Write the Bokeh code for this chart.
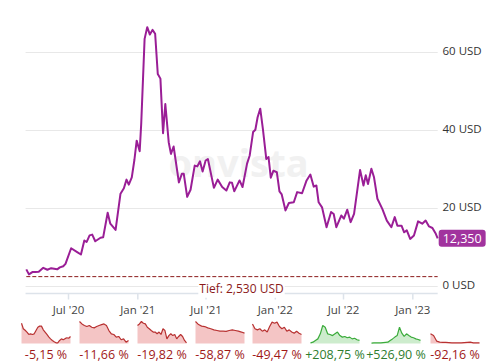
from datetime import datetime, timedelta
import pandas as pd
from bokeh.plotting import figure
from bokeh.models import Range1d, Label
from bokeh.core.properties import value
from bokeh.embed import file_html
from bokeh.resources import INLINE

# ---------------- data ----------------
dates = ["2020-03-11", "2020-03-18", "2020-03-27", "2020-04-04", "2020-04-13", "2020-04-25",
         "2020-05-06", "2020-05-16", "2020-06-01", "2020-06-08", "2020-06-17", "2020-06-23",
         "2020-07-08", "2020-07-24", "2020-08-03", "2020-08-12", "2020-08-18", "2020-08-26",
         "2020-09-02", "2020-09-10", "2020-09-24", "2020-10-01", "2020-10-13", "2020-10-20",
         "2020-11-03", "2020-11-16", "2020-11-25", "2020-12-02", "2020-12-08", "2020-12-16",
         "2020-12-23", "2020-12-29", "2021-01-06", "2021-01-10", "2021-01-19", "2021-01-26",
         "2021-02-02", "2021-02-09", "2021-02-16", "2021-02-23", "2021-03-02", "2021-03-09",
         "2021-03-15", "2021-03-24", "2021-03-30", "2021-04-06", "2021-04-15", "2021-04-20",
         "2021-04-28", "2021-05-03", "2021-05-12", "2021-05-21", "2021-06-01", "2021-06-08",
         "2021-06-15", "2021-06-22", "2021-06-30", "2021-07-06", "2021-07-22", "2021-08-01",
         "2021-08-13", "2021-08-24", "2021-09-02", "2021-09-08", "2021-09-14", "2021-09-28",
         "2021-10-06", "2021-10-18", "2021-10-25", "2021-11-03", "2021-11-09", "2021-11-15",
         "2021-11-22", "2021-11-29", "2021-12-08", "2021-12-14", "2021-12-20", "2021-12-27",
         "2022-01-05", "2022-01-12", "2022-01-18", "2022-01-28", "2022-02-06", "2022-02-19",
         "2022-02-28", "2022-03-13", "2022-03-25", "2022-04-04", "2022-04-13", "2022-04-20",
         "2022-04-26", "2022-05-05", "2022-05-17", "2022-05-29", "2022-06-05", "2022-06-12",
         "2022-06-25", "2022-07-02", "2022-07-11", "2022-07-20", "2022-07-29", "2022-08-14",
         "2022-08-23", "2022-08-29", "2022-09-04", "2022-09-13", "2022-09-20", "2022-09-29",
         "2022-10-12", "2022-10-24", "2022-11-05", "2022-11-14", "2022-11-21", "2022-12-02",
         "2022-12-09", "2022-12-16", "2022-12-25", "2023-01-04", "2023-01-15", "2023-01-26",
         "2023-02-04", "2023-02-13", "2023-02-22", "2023-03-03", "2023-03-08"]
prices = [4.4, 3.1, 3.7, 3.7, 3.8, 4.8,
          4.3, 4.7, 4.4, 4.9, 5.2, 5.8,
          9.8, 8.8, 8.2, 11.8, 11.4, 13.1,
          13.3, 11.6, 12.5, 12.6, 18.9, 16.1,
          14.5, 23.8, 25.2, 27.4, 26.1, 28.0,
          32.5, 37.4, 34.7, 41.7, 63.5, 66.5,
          64.6, 65.8, 64.8, 54.5, 53.3, 39.3,
          46.8, 37.0, 34.0, 35.9, 30.0, 26.7,
          28.9, 28.9, 23.0, 24.8, 31.0, 30.8,
          32.1, 29.5, 32.3, 32.7, 25.3, 27.4,
          25.5, 24.6, 26.7, 26.6, 24.4, 27.2,
          25.5, 31.5, 33.6, 39.6, 40.2, 43.4,
          45.6, 40.4, 32.7, 33.2, 27.9, 29.7,
          29.3, 24.4, 23.6, 19.5, 21.4, 21.6,
          24.2, 23.9, 27.2, 28.7, 25.6, 25.9,
          21.6, 20.3, 15.2, 19.1, 18.6, 15.2,
          18.2, 17.4, 19.7, 16.5, 18.6, 29.9,
          25.9, 28.5, 26.3, 30.2, 28.0, 22.5,
          19.9, 16.9, 15.2, 17.8, 15.6, 15.6,
          13.9, 14.4, 12.2, 13.1, 16.7, 16.1,
          16.9, 15.4, 15.0, 13.5, 12.35]

last_price_text = "12,350"
low_value = 2.53
low_text = "Tief: 2,530 USD"

y_ticks = [0, 20, 40, 60]
y_tick_labels = ["0 USD", "20 USD", "40 USD", "60 USD"]
x_ticks = ["2020-07-01", "2021-01-01", "2021-07-01", "2022-01-01", "2022-07-01", "2023-01-01"]
x_tick_labels = ["Jul '20", "Jan '21", "Jul '21", "Jan '22", "Jul '22", "Jan '23"]

# performance sparklines (relative heights, 0..100)
spark_1 = [92, 67, 60, 52, 41, 44, 41, 44, 59, 74, 79, 79, 62, 52, 41, 30, 21, 14, 8, 3, 3, 14, 21, 17, 22, 26, 24, 32]
spark_2 = [100, 89, 82, 77, 82, 74, 71, 77, 82, 86, 89, 82, 59, 44, 41, 29, 32, 17, 21, 6, 14]
spark_3 = [82, 89, 100, 92, 89, 74, 67, 59, 52, 52, 44, 52, 41, 67, 59, 21, 36, 44, 36, 41, 21, 32, 41, 32, 14, 3]
spark_4 = [100, 86, 79, 77, 71, 67, 62, 59, 56, 56, 55, 59, 62, 59, 56, 52, 47]
spark_5 = [89, 67, 62, 67, 56, 62, 52, 77, 97, 92, 97, 77, 67, 74, 56, 62, 52, 47, 56, 47, 41]
spark_6 = [3, 6, 14, 21, 44, 82, 74, 44, 41, 36, 44, 52, 36, 29, 32, 26, 29, 21, 24, 17, 14]
spark_7 = [2, 3, 3, 3, 3, 4, 5, 6, 14, 21, 29, 36, 74, 47, 32, 44, 36, 29, 26, 21, 18, 14]
spark_8 = [44, 36, 11, 6, 5, 5, 4, 3, 3, 3, 3, 4, 5, 6, 3, 3, 3]
sparks = [spark_1, spark_2, spark_3, spark_4, spark_5, spark_6, spark_7, spark_8]
spark_labels = ["-5,15 %", "-11,66 %", "-19,82 %", "-58,87 %", "-49,47 %", "+208,75 %", "+526,90 %", "-92,16 %"]

# ---------------- layout constants ----------------
W, H = 495, 362
OX, OY = 0, 0
FONT = "Open Sans"
LINE_COLOR = "#9a1e96"


def px_x(page_x):
    return page_x - OX


def px_y(page_y):
    return H - (page_y - OY)


# main x scale: Jul 1 2020 sits at page x 68, 2.6545 days per pixel
days_per_px = 2.6545
anchor = datetime(2020, 7, 1)
x_start = anchor - timedelta(days=(68 - OX) * days_per_px)
x_end = x_start + timedelta(days=W * days_per_px)

# main y scale: 0 at page y 286, 20 units per 78 px
val_per_px = 20 / 78
y_start = -px_y(286) * val_per_px
y_end = y_start + H * val_per_px

p = figure(width=W, height=H, output_backend="svg", toolbar_location=None,
           x_range=Range1d(x_start, x_end), y_range=Range1d(y_start, y_end),
           x_axis_location=None, y_axis_location=None, min_border=0,
           outline_line_color=None, background_fill_color="white", border_fill_color="white")
p.grid.visible = False

# pixel helper ranges
p.extra_x_ranges = {"px": Range1d(0, W)}
spark_upp = 100 / 22  # 100 units over 22 px
spark_y0 = -px_y(343) * spark_upp
p.extra_y_ranges = {"py": Range1d(0, H), "spark": Range1d(spark_y0, spark_y0 + H * spark_upp)}

dts = pd.to_datetime(dates)
grid_left = dts[0] - pd.Timedelta(days=2)
grid_right = dts[-1]

# watermark
p.text(x=[px_x(238)], y=[px_y(161)], text=["onvista"], x_range_name="px", y_range_name="py",
       text_font=value("Noto Sans"), text_font_size="38px", text_font_style="bold",
       text_color="#f1f1f1", text_align="center", text_baseline="middle")

# gridlines
p.segment(x0=[grid_left] * len(y_ticks), x1=[grid_right] * len(y_ticks), y0=y_ticks, y1=y_ticks,
          line_color="#e8e8e8", line_width=1)

# y labels
p.text(x=[px_x(442)] * len(y_ticks), y=y_ticks, text=y_tick_labels, x_range_name="px",
       text_font=value(FONT), text_font_size="11.5px", text_color="#333333",
       text_align="left", text_baseline="alphabetic", y_offset=-2)

# x axis line, ticks, labels
p.segment(x0=[grid_left], x1=[grid_right], y0=[px_y(293)], y1=[px_y(293)], y_range_name="py",
          line_color="#dde3ea", line_width=1.5)
xt = pd.to_datetime(x_ticks)
p.segment(x0=xt, x1=xt, y0=[px_y(293)] * len(xt), y1=[px_y(299)] * len(xt), y_range_name="py",
          line_color="#dde3ea", line_width=1.5)
p.text(x=xt, y=[px_y(301)] * len(xt), text=x_tick_labels, y_range_name="py",
       text_font=value(FONT), text_font_size="11.5px", text_color="#444444",
       text_align="center", text_baseline="top")

# low line
p.line(x=[dts[0], grid_right], y=[low_value, low_value], line_color="#8b1a1a",
       line_dash="4 2", line_width=1)
p.add_layout(Label(x=px_x(241), x_units="screen", y=low_value, text=low_text,
                   text_font=FONT, text_font_size="12px", text_color="#8b1a1a",
                   text_align="center", text_baseline="top", y_offset=-2,
                   background_fill_color="white", padding=1))

# price line
p.line(x=dts, y=prices, line_color=LINE_COLOR, line_width=2, line_join="round")

# last price badge
p.add_layout(Label(x=dts[-1], y=prices[-1], text=last_price_text, x_offset=1,
                   text_font=FONT, text_font_size="12.5px", text_color="white",
                   text_align="left", text_baseline="middle",
                   background_fill_color="#a1339e", padding=4, border_radius=3))

# sparklines
panel_lefts = [21, 79, 137, 195, 252, 310, 371, 430]
panel_w = 49
for i, (vals, lab) in enumerate(zip(sparks, spark_labels)):
    n = len(vals)
    upp = (n - 1) / panel_w
    s = -px_x(panel_lefts[i]) * upp
    name = f"s{i}"
    p.extra_x_ranges[name] = Range1d(s, s + W * upp)
    up = lab.startswith("+")
    fill = "#cdeccd" if up else "#f4c5c5"
    lc = "#3bab3b" if up else "#b83232"
    tc = "#2f7d2f" if up else "#a01818"
    idx = list(range(n))
    p.varea(x=idx, y1=[0] * n, y2=vals, x_range_name=name, y_range_name="spark",
            fill_color=fill, fill_alpha=1)
    p.line(x=idx, y=vals, x_range_name=name, y_range_name="spark", line_color=lc, line_width=1.2)
    p.text(x=[px_x(panel_lefts[i] + panel_w / 2)], y=[px_y(353.5)], text=[lab],
           x_range_name="px", y_range_name="py", text_font=value(FONT), text_font_size="12.5px",
           text_color=tc, text_align="center", text_baseline="middle")

open("out.html", "w").write(file_html(p, INLINE))
